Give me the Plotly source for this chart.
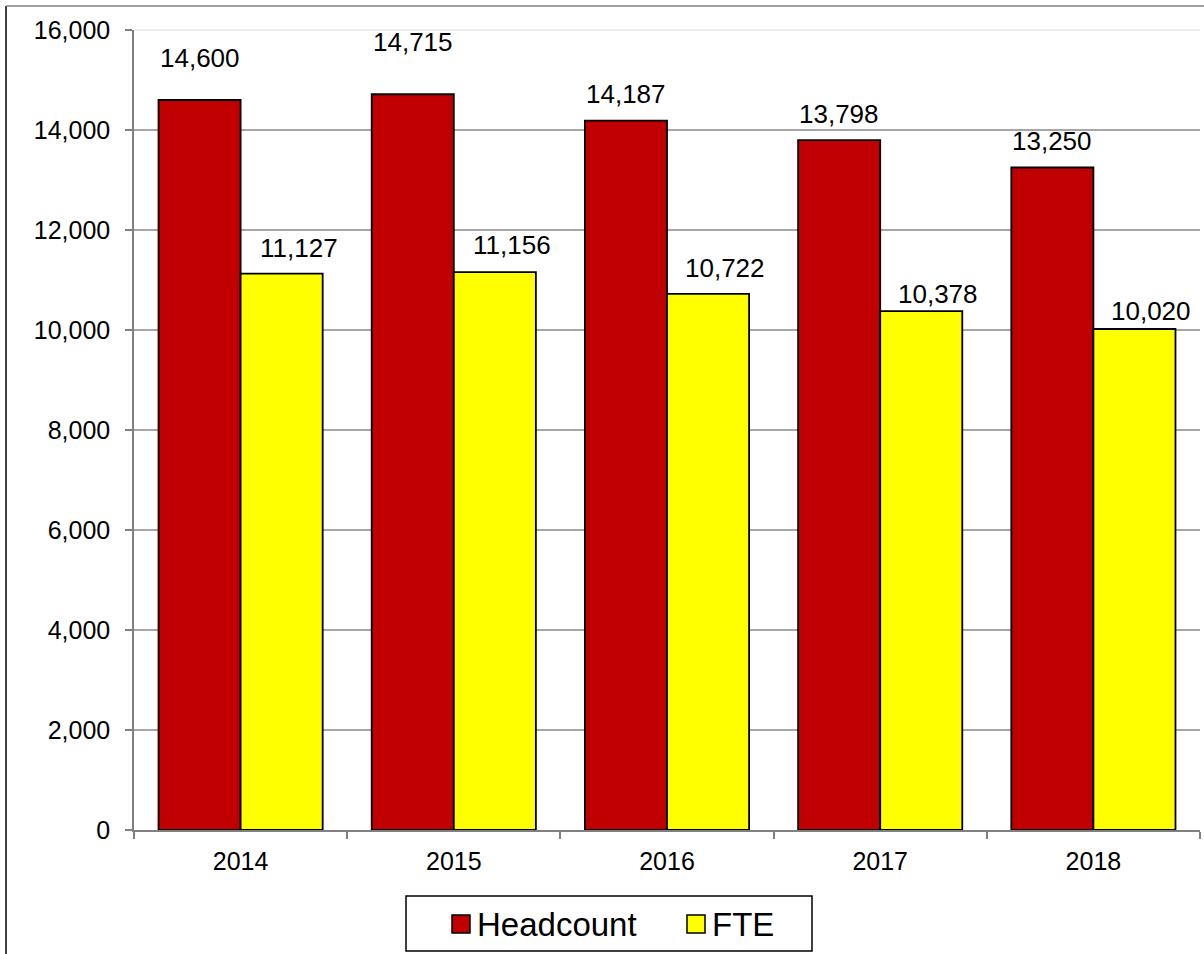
import plotly.graph_objects as go

years = ["2014", "2015", "2016", "2017", "2018"]
headcount = [14600, 14715, 14187, 13798, 13250]
fte = [11127, 11156, 10722, 10378, 10020]
series_names = ["Headcount", "FTE"]
series_colors = ["#C00000", "#FFFF00"]

# label placement tweaks (pixels above bar top), kept separate from data
hc_label_dy = [42, 52, 27, 26, 27]
fte_label_dy = [26, 27, 26, 17, 18]
fte_label_dx = 17

W, H = 1204, 954
ML, MR, MT, MB = 134, 4, 30, 124
BARGAP = 0.23
plot_w = W - ML - MR
plot_h = H - MT - MB
cat_w = plot_w / len(years)
bar_w = cat_w * (1 - BARGAP) / 2

FONT = "Liberation Sans, Arial, sans-serif"

fig = go.Figure()
for name, vals, col in zip(series_names, [headcount, fte], series_colors):
    fig.add_trace(go.Bar(x=years, y=vals, name=name, hoverinfo="skip",
                         marker=dict(color=col, line=dict(color="black", width=1.8))))

annotations = []
for i, y in enumerate(years):
    annotations.append(dict(x=i, y=headcount[i], xref="x", yref="y",
                            text=f"{headcount[i]:,}", showarrow=False,
                            xshift=-bar_w / 2, yshift=hc_label_dy[i],
                            yanchor="middle", font=dict(size=26, color="black", family=FONT)))
    annotations.append(dict(x=i, y=fte[i], xref="x", yref="y",
                            text=f"{fte[i]:,}", showarrow=False,
                            xshift=bar_w / 2 + fte_label_dx, yshift=fte_label_dy[i],
                            yanchor="middle", font=dict(size=26, color="black", family=FONT)))

def px_to_paper_x(px):
    return (px - ML) / plot_w

def px_to_paper_y(py):
    return (H - MB - py) / plot_h

shapes = [
    # light top border of plot area
    dict(type="line", xref="paper", yref="paper", x0=0, x1=1, y0=1, y1=1,
         line=dict(color="#E8E8E8", width=1.5), layer="above"),
    # outer chart frame (left and top edges)
    dict(type="line", xref="paper", yref="paper",
         x0=px_to_paper_x(6), x1=px_to_paper_x(6),
         y0=px_to_paper_y(6), y1=px_to_paper_y(960),
         line=dict(color="black", width=1.5)),
    dict(type="line", xref="paper", yref="paper",
         x0=px_to_paper_x(6), x1=px_to_paper_x(1210),
         y0=px_to_paper_y(6), y1=px_to_paper_y(6),
         line=dict(color="#808080", width=1.5)),
    # legend box
    dict(type="rect", xref="paper", yref="paper",
         x0=px_to_paper_x(406), x1=px_to_paper_x(812),
         y0=px_to_paper_y(896), y1=px_to_paper_y(951),
         line=dict(color="black", width=1.5), fillcolor="white"),
]

# legend entries (swatch + text)
legend_swatch_x = [452, 687]
legend_text_x = [478, 713]
for name, col, sx, tx in zip(series_names, series_colors, legend_swatch_x, legend_text_x):
    shapes.append(dict(type="rect", xref="paper", yref="paper",
                       x0=px_to_paper_x(sx), x1=px_to_paper_x(sx + 18),
                       y0=px_to_paper_y(915), y1=px_to_paper_y(933),
                       line=dict(color="black", width=1.5), fillcolor=col))
    annotations.append(dict(x=px_to_paper_x(tx - 3), y=px_to_paper_y(924),
                            xref="paper", yref="paper", text=name, showarrow=False,
                            xanchor="left", yanchor="middle",
                            font=dict(size=33, family=FONT, color="black")))

fig.update_layout(
    width=W, height=H,
    margin=dict(l=ML, r=MR, t=MT, b=MB, pad=0),
    paper_bgcolor="white", plot_bgcolor="white",
    barmode="group", bargap=BARGAP, bargroupgap=0,
    font=dict(family=FONT, color="black"),
    showlegend=False,
    annotations=annotations,
    shapes=shapes,
)
fig.update_xaxes(type="category", range=[-0.5, len(years) - 0.5], showline=True,
                 linecolor="#808080", linewidth=1.5,
                 ticks="outside", tickson="boundaries", ticklen=7, tickcolor="#808080",
                 tickwidth=1.5, tickfont=dict(size=25, family=FONT, color="black"),
                 tickangle=0, showgrid=False, ticklabelstandoff=8)
fig.update_yaxes(range=[0, 16000], dtick=2000, tickformat=",d", showline=True,
                 linecolor="#808080", linewidth=1.5, ticks="outside", ticklen=7,
                 tickcolor="#808080", tickwidth=1.5, showgrid=True, gridcolor="#A6A6A6",
                 gridwidth=1.5, zeroline=False,
                 tickfont=dict(size=25, family=FONT, color="black"), ticklabelstandoff=10)

fig.write_html("out.html", config={"displayModeBar": False},
               post_script="document.body.style.margin='0';document.body.style.overflow='hidden';")
